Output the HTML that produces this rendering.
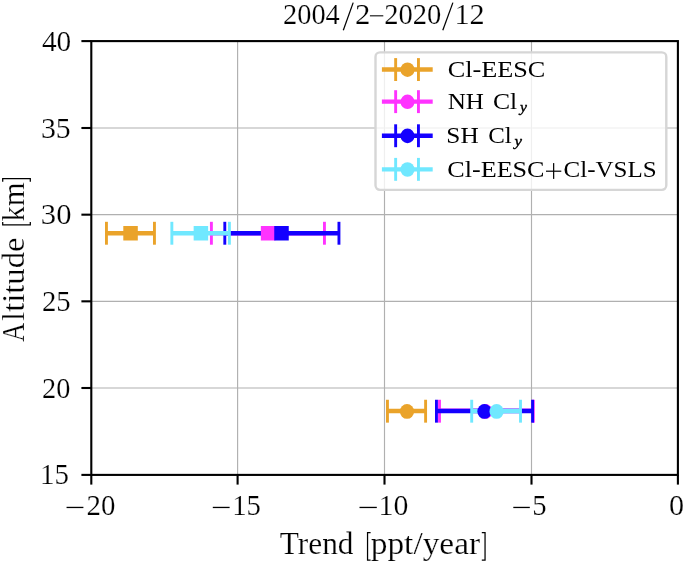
<!DOCTYPE html><html><head><meta charset="utf-8"><style>html,body{margin:0;padding:0;background:#fff;overflow:hidden}svg{display:block;will-change:transform}text{font-family:"Liberation Serif",serif;fill:#000;stroke:#fff;stroke-width:0.2px}</style></head><body><svg width="685" height="563" viewBox="0 0 685 563"><g stroke="#b0b0b0" stroke-width="1.15"><line x1="237.6" y1="41" x2="237.6" y2="475" /><line x1="384.5" y1="41" x2="384.5" y2="475" /><line x1="531.5" y1="41" x2="531.5" y2="475" /><line x1="91" y1="128.0" x2="678" y2="128.0" /><line x1="91" y1="214.67" x2="678" y2="214.67" /><line x1="91" y1="301.33" x2="678" y2="301.33" /><line x1="91" y1="388.0" x2="678" y2="388.0" /></g><line x1="106.45" y1="233.25" x2="154.45" y2="233.25" stroke="#eaa32a" stroke-width="4.4"/><line x1="387.45" y1="411.05" x2="425.60" y2="411.05" stroke="#eaa32a" stroke-width="4.4"/><line x1="106.45" y1="221.80" x2="106.45" y2="244.70" stroke="#eaa32a" stroke-width="2.9"/><line x1="154.45" y1="221.80" x2="154.45" y2="244.70" stroke="#eaa32a" stroke-width="2.9"/><line x1="387.45" y1="399.75" x2="387.45" y2="422.65" stroke="#eaa32a" stroke-width="2.9"/><line x1="425.60" y1="399.75" x2="425.60" y2="422.65" stroke="#eaa32a" stroke-width="2.9"/><line x1="211.40" y1="233.25" x2="324.45" y2="233.25" stroke="#ff33ff" stroke-width="4.4"/><line x1="439.50" y1="410.8" x2="533.30" y2="410.8" stroke="#ff33ff" stroke-width="4.4"/><line x1="211.40" y1="221.80" x2="211.40" y2="244.70" stroke="#ff33ff" stroke-width="2.9"/><line x1="324.45" y1="221.80" x2="324.45" y2="244.70" stroke="#ff33ff" stroke-width="2.9"/><line x1="439.50" y1="399.75" x2="439.50" y2="422.65" stroke="#ff33ff" stroke-width="2.9"/><line x1="533.30" y1="399.75" x2="533.30" y2="422.65" stroke="#ff33ff" stroke-width="2.9"/><line x1="224.80" y1="233.25" x2="338.95" y2="233.25" stroke="#1400ff" stroke-width="4.4"/><line x1="436.45" y1="411.05" x2="532.60" y2="411.05" stroke="#1400ff" stroke-width="4.4"/><line x1="224.80" y1="221.80" x2="224.80" y2="244.70" stroke="#1400ff" stroke-width="2.9"/><line x1="338.95" y1="221.80" x2="338.95" y2="244.70" stroke="#1400ff" stroke-width="2.9"/><line x1="436.45" y1="399.75" x2="436.45" y2="422.65" stroke="#1400ff" stroke-width="2.9"/><line x1="532.60" y1="399.75" x2="532.60" y2="422.65" stroke="#1400ff" stroke-width="2.9"/><line x1="171.85" y1="233.25" x2="229.40" y2="233.25" stroke="#70e8ff" stroke-width="4.4"/><line x1="471.70" y1="411.05" x2="520.50" y2="411.05" stroke="#70e8ff" stroke-width="4.4"/><line x1="171.85" y1="221.80" x2="171.85" y2="244.70" stroke="#70e8ff" stroke-width="2.9"/><line x1="229.40" y1="221.80" x2="229.40" y2="244.70" stroke="#70e8ff" stroke-width="2.9"/><line x1="471.70" y1="399.75" x2="471.70" y2="422.65" stroke="#70e8ff" stroke-width="2.9"/><line x1="520.50" y1="399.75" x2="520.50" y2="422.65" stroke="#70e8ff" stroke-width="2.9"/><rect x="123.30" y="226.00" width="14.5" height="14.5" fill="#eaa32a"/><ellipse cx="407.0" cy="411.40" rx="7.1" ry="7.4" fill="#eaa32a"/><rect x="260.85" y="226.00" width="14.5" height="14.5" fill="#ff33ff"/><ellipse cx="485.4" cy="411.40" rx="7.1" ry="7.4" fill="#ff33ff"/><rect x="274.25" y="226.00" width="14.5" height="14.5" fill="#1400ff"/><ellipse cx="484.45" cy="411.40" rx="7.1" ry="7.4" fill="#1400ff"/><rect x="193.65" y="226.00" width="14.5" height="14.5" fill="#70e8ff"/><ellipse cx="496.6" cy="411.40" rx="7.1" ry="7.4" fill="#70e8ff"/><rect x="375.5" y="52.4" width="290.8" height="137.45" rx="4.5" fill="#fff" fill-opacity="0.8" stroke="#d6d6d6" stroke-width="2.4"/><text x="447.71" y="76.80" font-size="24" textLength="97.66" lengthAdjust="spacingAndGlyphs" style="stroke-width:0">Cl-EESC</text><text x="447.75" y="109.40" font-size="24" textLength="36.25" lengthAdjust="spacingAndGlyphs" style="stroke-width:0">NH</text><text x="492.93" y="109.40" font-size="24" textLength="24.20" lengthAdjust="spacingAndGlyphs" style="stroke-width:0">Cl</text><text x="519.92" y="112.00" font-size="15.4" font-style="italic" style="stroke:#000;stroke-width:0.4px" textLength="6.92" lengthAdjust="spacingAndGlyphs">y</text><text x="446.39" y="143.00" font-size="24" textLength="32.33" lengthAdjust="spacingAndGlyphs" style="stroke-width:0">SH</text><text x="488.16" y="143.00" font-size="24" textLength="23.55" lengthAdjust="spacingAndGlyphs" style="stroke-width:0">Cl</text><text x="514.48" y="145.85" font-size="15.4" font-style="italic" style="stroke:#000;stroke-width:0.4px" textLength="7.45" lengthAdjust="spacingAndGlyphs">y</text><text x="447.31" y="176.80" font-size="24" textLength="97.25" lengthAdjust="spacingAndGlyphs" style="stroke-width:0">Cl-EESC</text><text x="563.56" y="176.80" font-size="24" textLength="93.06" lengthAdjust="spacingAndGlyphs" style="stroke-width:0">Cl-VSLS</text><rect x="546.0" y="170.6" width="15.3" height="1.2" fill="#000"/><rect x="553.05" y="163.1" width="1.2" height="15.8" fill="#000"/><line x1="381.9" y1="69.55" x2="432.7" y2="69.55" stroke="#eaa32a" stroke-width="4.4"/><line x1="395.65" y1="58.10" x2="395.65" y2="81.00" stroke="#eaa32a" stroke-width="2.9"/><line x1="418.45" y1="58.10" x2="418.45" y2="81.00" stroke="#eaa32a" stroke-width="2.9"/><ellipse cx="407.5" cy="69.70" rx="7.0" ry="7.3" fill="#eaa32a"/><line x1="381.9" y1="101.65" x2="432.7" y2="101.65" stroke="#ff33ff" stroke-width="4.4"/><line x1="395.65" y1="90.20" x2="395.65" y2="113.10" stroke="#ff33ff" stroke-width="2.9"/><line x1="418.45" y1="90.20" x2="418.45" y2="113.10" stroke="#ff33ff" stroke-width="2.9"/><ellipse cx="407.5" cy="101.80" rx="7.0" ry="7.3" fill="#ff33ff"/><line x1="381.9" y1="135.75" x2="432.7" y2="135.75" stroke="#1400ff" stroke-width="4.4"/><line x1="395.65" y1="124.30" x2="395.65" y2="147.20" stroke="#1400ff" stroke-width="2.9"/><line x1="418.45" y1="124.30" x2="418.45" y2="147.20" stroke="#1400ff" stroke-width="2.9"/><ellipse cx="407.5" cy="135.90" rx="7.0" ry="7.3" fill="#1400ff"/><line x1="381.9" y1="169.35" x2="432.7" y2="169.35" stroke="#70e8ff" stroke-width="4.4"/><line x1="395.65" y1="157.90" x2="395.65" y2="180.80" stroke="#70e8ff" stroke-width="2.9"/><line x1="418.45" y1="157.90" x2="418.45" y2="180.80" stroke="#70e8ff" stroke-width="2.9"/><ellipse cx="407.5" cy="169.50" rx="7.0" ry="7.3" fill="#70e8ff"/><g stroke="#000" stroke-width="2.1" stroke-linecap="butt"><rect x="91.3" y="41.1" width="586.6" height="433.8" fill="none"/><line x1="91.3" y1="475" x2="91.3" y2="484.6"/><line x1="237.6" y1="475" x2="237.6" y2="484.6"/><line x1="384.5" y1="475" x2="384.5" y2="484.6"/><line x1="531.5" y1="475" x2="531.5" y2="484.6"/><line x1="677.9" y1="475" x2="677.9" y2="484.6"/><line x1="81.4" y1="41.1" x2="91.3" y2="41.1"/><line x1="81.4" y1="128.0" x2="91.3" y2="128.0"/><line x1="81.4" y1="214.67" x2="91.3" y2="214.67"/><line x1="81.4" y1="301.33" x2="91.3" y2="301.33"/><line x1="81.4" y1="388.0" x2="91.3" y2="388.0"/><line x1="81.4" y1="474.9" x2="91.3" y2="474.9"/></g><text x="283.05" y="23.70" font-size="30" textLength="56.75" lengthAdjust="spacingAndGlyphs">2004</text><text x="354.98" y="23.70" font-size="30" textLength="15.38" lengthAdjust="spacingAndGlyphs">2</text><text x="384.15" y="23.70" font-size="30" textLength="57.10" lengthAdjust="spacingAndGlyphs">2020</text><text x="454.48" y="23.70" font-size="30" textLength="30.24" lengthAdjust="spacingAndGlyphs">12</text><text x="279.77" y="553.50" font-size="30.5" textLength="73.71" lengthAdjust="spacingAndGlyphs">Trend</text><text x="370.71" y="553.50" font-size="30.5" textLength="109.43" lengthAdjust="spacingAndGlyphs">ppt/year</text><text transform="translate(23.7,518.6) rotate(-90)" x="176.90" y="0" font-size="30.5" textLength="18.93" lengthAdjust="spacingAndGlyphs">A</text><text transform="translate(23.7,518.6) rotate(-90)" x="197.73" y="0" font-size="30.5" textLength="83.27" lengthAdjust="spacingAndGlyphs">ltitude</text><text transform="translate(23.7,518.6) rotate(-90)" x="296.99" y="0" font-size="30.5" textLength="39.30" lengthAdjust="spacingAndGlyphs">km</text><text x="41.93" y="50.60" font-size="30.4" textLength="29.36" lengthAdjust="spacingAndGlyphs">40</text><text x="40.94" y="137.50" font-size="30.4" textLength="29.83" lengthAdjust="spacingAndGlyphs">35</text><text x="40.89" y="224.17" font-size="30.4" textLength="30.62" lengthAdjust="spacingAndGlyphs">30</text><text x="41.95" y="310.83" font-size="30.4" textLength="28.76" lengthAdjust="spacingAndGlyphs">25</text><text x="41.97" y="397.50" font-size="30.4" textLength="28.33" lengthAdjust="spacingAndGlyphs">20</text><text x="40.05" y="484.40" font-size="30.4" textLength="28.87" lengthAdjust="spacingAndGlyphs">15</text><text x="86.54" y="514.90" font-size="30.2" textLength="28.89" lengthAdjust="spacingAndGlyphs">20</text><text x="232.15" y="514.90" font-size="30.2" textLength="28.68" lengthAdjust="spacingAndGlyphs">15</text><text x="378.53" y="514.90" font-size="30.2" textLength="29.84" lengthAdjust="spacingAndGlyphs">10</text><text x="532.20" y="514.90" font-size="30.2" textLength="14.34" lengthAdjust="spacingAndGlyphs">5</text><text x="669.10" y="514.90" font-size="30.2" textLength="15.09" lengthAdjust="spacingAndGlyphs">0</text><rect x="66.55" y="506.80" width="16.85" height="1.3" fill="#000"/><rect x="212.80" y="506.80" width="16.80" height="1.3" fill="#000"/><rect x="359.50" y="506.80" width="17.30" height="1.3" fill="#000"/><rect x="513.30" y="506.80" width="16.50" height="1.3" fill="#000"/><g stroke="#000" stroke-width="1.25" stroke-linecap="butt"><line x1="353.20" y1="2.6" x2="343.30" y2="30.3"/><line x1="452.90" y1="2.6" x2="442.80" y2="30.3"/></g><g fill="none" stroke="#000" stroke-width="1.25" stroke-linejoin="miter"><path d="M370.6 532.6H367.55V560.0H370.6"/><path d="M481.8 532.6H485.05V560.0H481.8"/><path d="M2.7 222.0V224.85H30.3V222.0"/><path d="M2.7 181.85V178.7H30.3V181.85"/></g><rect x="369.9" y="15.3" width="13.4" height="1.05" fill="#000"/></svg></body></html>
